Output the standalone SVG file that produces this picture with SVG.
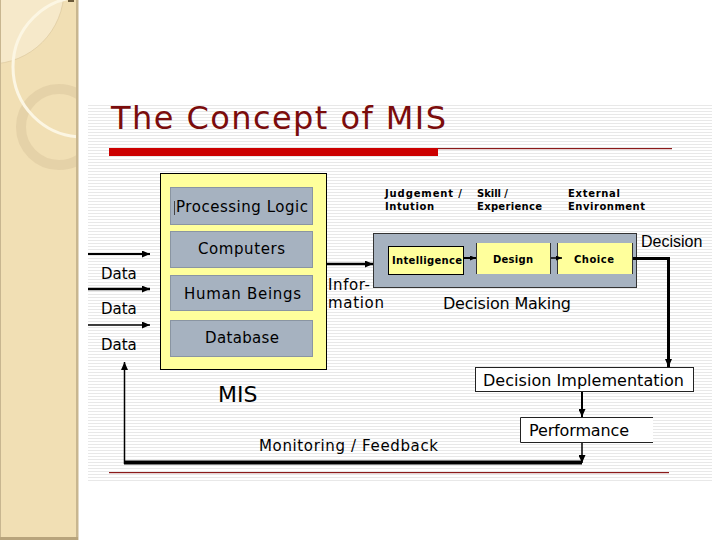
<svg xmlns="http://www.w3.org/2000/svg" width="720" height="540" viewBox="0 0 720 540">
<style>
.t{font-family:"DejaVu Sans","Noto Sans",sans-serif;fill:#000}
.a{font-family:"Liberation Sans",Arial,sans-serif;fill:#000}
.s{font-family:"DejaVu Sans","Noto Sans",sans-serif;font-weight:bold;font-size:10px;fill:#000}
.gray{fill:#a6b2c0;stroke:#8a95a2;stroke-width:1}
.yel{fill:#ffff9c;stroke:#000;stroke-width:1}
.ln{fill:none;stroke:#000}
</style>
<defs>
<pattern id="stripes" patternUnits="userSpaceOnUse" width="4" height="3">
<rect width="4" height="3" fill="#ffffff"/>
<rect width="4" height="1" fill="#e8e8e8"/>
</pattern>
<clipPath id="panel"><rect x="0" y="0" width="77" height="540"/></clipPath>
<marker id="ah" markerUnits="userSpaceOnUse" markerWidth="8" markerHeight="7" refX="8" refY="3.5" orient="auto">
<path d="M0,0 L8,3.5 L0,7 Z" fill="#000"/>
</marker>
<marker id="ahs" markerUnits="userSpaceOnUse" markerWidth="6" markerHeight="5" refX="6" refY="2.5" orient="auto">
<path d="M0,0 L6,2.5 L0,5 Z" fill="#000"/>
</marker>
</defs>

<rect width="720" height="540" fill="#ffffff"/>

<g id="side-panel">
<rect x="0" y="0" width="77" height="540" fill="#f1dfb4"/>
<g clip-path="url(#panel)">
<circle cx="-10" cy="-10" r="74" fill="#f6e9ca" stroke="#d8c49a" stroke-width="0.6"/>
<circle cx="59" cy="127" r="38" fill="none" stroke="#dfcca2" stroke-width="10" opacity="0.7"/>
<circle cx="83" cy="67" r="70" fill="none" stroke="#fcf6e3" stroke-width="3"/>
</g>
<rect x="76" y="0" width="2.5" height="540" fill="#c8b690"/>
<rect x="0" y="0" width="1" height="540" fill="#c8b690"/>
<rect x="0" y="537" width="78" height="3" fill="#b8a47c"/>
<rect x="68" y="0" width="6" height="2" fill="#6b5a3a"/>
</g>

<rect x="88" y="103" width="624" height="380" fill="url(#stripes)"/>

<g id="title">
<text x="111" y="129" font-family="DejaVu Sans, Noto Sans, sans-serif" font-size="32" fill="#7b0c0c" textLength="335" lengthAdjust="spacing">The Concept of MIS</text>
<rect x="109" y="148" width="329" height="8" fill="#cc0000"/>
<rect x="438" y="148" width="234" height="1.2" fill="#8b1a1a"/>
</g>

<rect x="109" y="472" width="560" height="1.2" fill="#8b1a1a"/>

<g id="mis">
<rect class="yel" x="160.5" y="173.5" width="166" height="196"/>
<text class="t" x="218" y="402" font-size="22">MIS</text>
</g>
<g id="processing-logic">
<rect class="gray" x="170.5" y="187.5" width="142" height="37"/>
<line x1="174.5" y1="201" x2="174.5" y2="215" stroke="#444" stroke-width="1"/>
<text class="t" x="176" y="212" font-size="15" textLength="132" lengthAdjust="spacing">Processing Logic</text>
</g>
<g id="computers">
<rect class="gray" x="170.5" y="231.5" width="142" height="36"/>
<text class="t" x="198" y="254" font-size="15" textLength="87" lengthAdjust="spacing">Computers</text>
</g>
<g id="human-beings">
<rect class="gray" x="170.5" y="275.5" width="142" height="35"/>
<text class="t" x="184" y="299" font-size="15" textLength="117" lengthAdjust="spacing">Human Beings</text>
</g>
<g id="database">
<rect class="gray" x="170.5" y="320.5" width="142" height="36"/>
<text class="t" x="205" y="343" font-size="15" textLength="74" lengthAdjust="spacing">Database</text>
</g>

<g id="data-labels">
<text class="t" x="101" y="279" font-size="15">Data</text>
<text class="t" x="101" y="314" font-size="15">Data</text>
<text class="t" x="101" y="350" font-size="15">Data</text>
</g>

<g id="information-label">
<text class="t" x="328" y="290" font-size="15" textLength="42" lengthAdjust="spacing">Infor-</text>
<text class="t" x="328" y="308" font-size="15" textLength="56" lengthAdjust="spacing">mation</text>
</g>

<g id="factors">
<text class="s" x="385" y="197" textLength="77" lengthAdjust="spacing">Judgement /</text>
<text class="s" x="385" y="210" textLength="49" lengthAdjust="spacing">Intution</text>
<text class="s" x="477" y="197" textLength="31" lengthAdjust="spacing">Skill /</text>
<text class="s" x="477" y="210" textLength="65" lengthAdjust="spacing">Experience</text>
<text class="s" x="568" y="197" textLength="52" lengthAdjust="spacing">External</text>
<text class="s" x="568" y="210" textLength="77" lengthAdjust="spacing">Environment</text>
</g>

<g id="decision-making">
<rect x="373.5" y="233.5" width="263" height="54" fill="#a6b2c0" stroke="#333" stroke-width="1"/>
<text class="t" x="443" y="309" font-size="16" textLength="128" lengthAdjust="spacing">Decision Making</text>
</g>
<g id="intelligence">
<rect class="yel" x="388.5" y="246.5" width="75" height="28"/>
<text class="s" x="392" y="264" textLength="70" lengthAdjust="spacing">Intelligence</text>
</g>
<g id="design">
<rect x="476" y="243" width="75" height="31" fill="#ffff9c"/>
<line x1="476.5" y1="243" x2="476.5" y2="274" stroke="#333"/>
<line x1="550.5" y1="243" x2="550.5" y2="274" stroke="#333"/>
<text class="s" x="493" y="263" textLength="40" lengthAdjust="spacing">Design</text>
</g>
<g id="choice">
<rect x="557" y="243" width="76" height="31" fill="#ffff9c"/>
<line x1="557.5" y1="243" x2="557.5" y2="274" stroke="#333"/>
<line x1="632.5" y1="243" x2="632.5" y2="274" stroke="#333"/>
<text class="s" x="574" y="263" textLength="40" lengthAdjust="spacing">Choice</text>
</g>
<g id="decision-label">
<text class="a" x="641" y="247" font-size="16">Decision</text>
</g>

<g id="decision-implementation">
<rect x="475.5" y="367.5" width="218" height="24" fill="#ffffff" stroke="#222" stroke-width="1"/>
<text class="t" x="483" y="386" font-size="16" textLength="201" lengthAdjust="spacing">Decision Implementation</text>
</g>
<g id="performance">
<rect x="520" y="417" width="133" height="26" fill="#ffffff"/>
<path d="M653,417.5 H520.5 V442.5 H653" fill="none" stroke="#222" stroke-width="1"/>
<text class="t" x="529" y="436" font-size="16" textLength="100" lengthAdjust="spacing">Performance</text>
</g>
<g id="feedback-label">
<text class="t" x="259" y="451" font-size="15" textLength="179" lengthAdjust="spacing">Monitoring / Feedback</text>
</g>

<g id="connectors">
<line class="ln" x1="88" y1="254" x2="150" y2="254" stroke-width="2" marker-end="url(#ah)"/>
<line class="ln" x1="88" y1="289" x2="150" y2="289" stroke-width="2.5" marker-end="url(#ah)"/>
<line class="ln" x1="88" y1="325" x2="150" y2="325" stroke-width="1.5" marker-end="url(#ah)"/>
<line class="ln" x1="327" y1="264" x2="373" y2="264" stroke-width="2.5" marker-end="url(#ah)"/>
<line class="ln" x1="464" y1="258" x2="476" y2="258" stroke-width="2" marker-end="url(#ahs)"/>
<line class="ln" x1="551" y1="258" x2="562" y2="258" stroke-width="1.5" marker-end="url(#ahs)"/>
<polyline class="ln" points="633,258.5 668.5,258.5 668.5,367" stroke-width="3" marker-end="url(#ah)"/>
<line class="ln" x1="582" y1="392" x2="582" y2="417" stroke-width="2" marker-end="url(#ah)"/>
<line class="ln" x1="582" y1="443" x2="582" y2="463" stroke-width="1.5" marker-end="url(#ah)"/>
<line class="ln" x1="124" y1="462.5" x2="582" y2="462.5" stroke-width="4"/>
<line class="ln" x1="124.5" y1="464" x2="124.5" y2="362" stroke-width="1.5" marker-end="url(#ah)"/>
</g>
</svg>
